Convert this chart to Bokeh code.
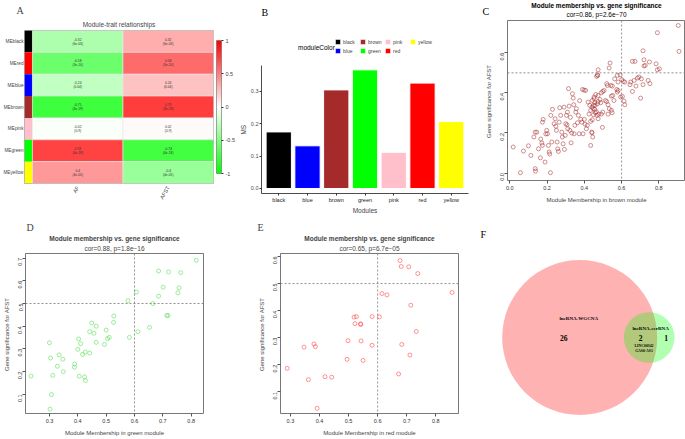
import math
from bokeh.plotting import figure
from bokeh.layouts import row, column
from bokeh.models import (FactorRange, Range1d, LinearColorMapper, ColorBar, FixedTicker,
                          Title, Span, Legend, LegendItem, ColumnDataSource,
                          NumeralTickFormatter)
from bokeh.embed import file_html
from bokeh.resources import INLINE
from bokeh.core.properties import value

# ------------------------------------------------------------------ data
# A: module-trait relationships
me_rows = ["MEblack", "MEred", "MEblue", "MEbrown", "MEpink", "MEgreen", "MEyellow"]
me_colors = ["#000000", "#FF0000", "#0000FF", "#A52A2A", "#FFC0CB", "#00FF00", "#FFFF00"]
traits = ["AF", "AFST"]
cor_af = [-0.32, -0.58, -0.24, -0.75, -0.02, 0.74, 0.4]
cor_afst = [0.32, 0.58, 0.24, 0.75, 0.02, -0.74, -0.4]
p_af = ["(6e-03)", "(3e-10)", "(0.04)", "(3e-19)", "(0.9)", "(4e-18)", "(4e-05)"]
p_afst = ["(6e-03)", "(3e-10)", "(0.04)", "(3e-19)", "(0.9)", "(4e-18)", "(4e-05)"]
cbar_ticks = [-1, -0.5, 0, 0.5, 1]

# B: module significance
modules = ["black", "blue", "brown", "green", "pink", "red", "yellow"]
module_fill = ["#000000", "#0000FF", "#A52A2A", "#00FF00", "#FFC0CB", "#FF0000", "#FFFF00"]
ms_values = [0.175, 0.132, 0.305, 0.367, 0.112, 0.326, 0.207]
ms_ticks = [0.0, 0.1, 0.2, 0.3]

# C: brown module (module membership, gene significance)
brown_points = [
    (0.018, 0.130), (0.057, 0.002), (0.073, 0.110), (0.100, 0.136), (0.113, 0.088),
    (0.129, 0.180), (0.136, 0.204), (0.145, 0.204), (0.154, 0.121), (0.164, 0.076),
    (0.136, 0.022), (0.138, 0.010), (0.166, 0.170), (0.172, 0.150), (0.175, 0.138),
    (0.179, 0.268), (0.175, 0.254), (0.189, 0.055), (0.193, 0.195), (0.198, 0.213),
    (0.202, 0.196), (0.207, 0.138), (0.211, 0.105), (0.214, 0.095), (0.218, 0.002),
    (0.220, 0.288), (0.225, 0.155), (0.229, 0.318), (0.238, 0.246), (0.243, 0.271),
    (0.247, 0.234), (0.250, 0.213), (0.254, 0.155), (0.257, 0.121), (0.261, 0.108),
    (0.265, 0.254), (0.268, 0.326), (0.273, 0.288), (0.279, 0.204), (0.282, 0.180),
    (0.286, 0.146), (0.291, 0.329), (0.293, 0.118), (0.297, 0.188), (0.300, 0.246),
    (0.304, 0.288), (0.307, 0.241), (0.309, 0.304), (0.311, 0.221), (0.315, 0.421),
    (0.318, 0.334), (0.322, 0.213), (0.325, 0.278), (0.329, 0.151), (0.332, 0.200),
    (0.336, 0.396), (0.340, 0.374), (0.343, 0.341), (0.345, 0.196), (0.349, 0.238),
    (0.354, 0.304), (0.357, 0.321), (0.363, 0.251), (0.368, 0.288), (0.372, 0.196),
    (0.375, 0.361), (0.381, 0.268), (0.386, 0.254), (0.390, 0.417), (0.393, 0.196),
    (0.399, 0.414), (0.400, 0.268), (0.404, 0.244), (0.407, 0.412), (0.411, 0.221),
    (0.416, 0.238), (0.420, 0.354), (0.425, 0.294), (0.429, 0.338), (0.434, 0.313),
    (0.440, 0.204), (0.443, 0.266), (0.447, 0.321), (0.452, 0.371), (0.458, 0.338),
    (0.461, 0.392), (0.465, 0.306), (0.468, 0.288), (0.472, 0.487),
    (0.904, 0.736), (0.792, 0.700), (0.908, 0.607), (0.715, 0.610), (0.658, 0.557),
    (0.672, 0.557), (0.720, 0.565), (0.749, 0.554), (0.727, 0.537), (0.720, 0.534),
    (0.785, 0.545), (0.792, 0.515), (0.803, 0.520), (0.538, 0.549), (0.533, 0.524),
    (0.474, 0.515), (0.470, 0.490), (0.466, 0.482), (0.592, 0.490), (0.577, 0.487),
    (0.563, 0.470), (0.601, 0.466), (0.609, 0.457), (0.617, 0.454), (0.581, 0.454),
    (0.649, 0.454), (0.645, 0.441), (0.667, 0.462), (0.685, 0.474), (0.693, 0.479),
    (0.706, 0.470), (0.715, 0.441), (0.742, 0.462), (0.752, 0.446), (0.677, 0.434),
    (0.658, 0.407), (0.702, 0.374), (0.520, 0.446), (0.524, 0.437), (0.542, 0.437),
    (0.550, 0.434), (0.574, 0.417), (0.577, 0.404), (0.581, 0.412), (0.552, 0.387),
    (0.545, 0.384), (0.595, 0.379), (0.604, 0.382), (0.559, 0.362), (0.520, 0.357),
    (0.474, 0.357), (0.484, 0.367), (0.499, 0.407), (0.491, 0.401), (0.474, 0.387),
    (0.452, 0.379), (0.443, 0.362), (0.449, 0.337), (0.506, 0.412), (0.513, 0.362),
    (0.527, 0.341), (0.534, 0.321), (0.545, 0.313), (0.549, 0.301), (0.527, 0.294),
    (0.499, 0.304), (0.491, 0.294), (0.477, 0.294), (0.456, 0.318), (0.459, 0.301),
    (0.441, 0.329), (0.613, 0.359), (0.617, 0.341), (0.474, 0.271), (0.434, 0.258),
    (0.497, 0.228), (0.441, 0.201), (0.445, 0.180), (0.434, 0.138), (0.470, 0.346),
    (0.456, 0.351), (0.488, 0.351), (0.449, 0.291),
]
brown_xticks = [0.0, 0.2, 0.4, 0.6, 0.8]
brown_yticks = [0.0, 0.2, 0.4, 0.6]

# D: green module
green_points = [
    (0.818, 0.690), (0.685, 0.643), (0.720, 0.639), (0.763, 0.636), (0.701, 0.572),
    (0.757, 0.569), (0.753, 0.547), (0.607, 0.550), (0.685, 0.532), (0.577, 0.512),
    (0.665, 0.500), (0.718, 0.447), (0.714, 0.447), (0.527, 0.445), (0.526, 0.417),
    (0.449, 0.414), (0.465, 0.400), (0.442, 0.376), (0.457, 0.369), (0.500, 0.383),
    (0.612, 0.376), (0.653, 0.395), (0.582, 0.351), (0.511, 0.351), (0.505, 0.345),
    (0.403, 0.344), (0.410, 0.323), (0.465, 0.329), (0.494, 0.320), (0.300, 0.327),
    (0.400, 0.298), (0.426, 0.286), (0.417, 0.276), (0.442, 0.282), (0.304, 0.260),
    (0.334, 0.274), (0.347, 0.255), (0.328, 0.224), (0.389, 0.234), (0.388, 0.220),
    (0.349, 0.200), (0.235, 0.181), (0.312, 0.184), (0.405, 0.180), (0.424, 0.177),
    (0.427, 0.161), (0.307, 0.099), (0.302, 0.035),
]
green_xticks = [0.3, 0.4, 0.5, 0.6, 0.7, 0.8]
green_yticks = [0.1, 0.2, 0.3, 0.4, 0.5, 0.6, 0.7]

# E: red module
red_points = [
    (0.677, 0.585), (0.681, 0.563), (0.707, 0.562), (0.738, 0.537), (0.856, 0.467),
    (0.615, 0.463), (0.632, 0.458), (0.714, 0.420), (0.519, 0.376), (0.527, 0.378),
    (0.581, 0.378), (0.606, 0.377), (0.522, 0.352), (0.541, 0.351), (0.542, 0.349),
    (0.733, 0.323), (0.498, 0.289), (0.543, 0.288), (0.581, 0.272), (0.683, 0.275),
    (0.381, 0.277), (0.386, 0.267), (0.347, 0.265), (0.711, 0.236), (0.495, 0.220),
    (0.550, 0.216), (0.289, 0.187), (0.672, 0.166), (0.419, 0.156), (0.442, 0.154),
    (0.362, 0.145), (0.392, 0.039),
]
red_xticks = [0.3, 0.4, 0.5, 0.6, 0.7, 0.8]
red_yticks = [0.1, 0.2, 0.3, 0.4, 0.5, 0.6]

# F: Venn
venn_names = ["lncRNA-WGCNA", "lncRNA-cerRNA"]
only_wgcna, both, only_cerna = 26, 2, 1
shared_genes = ["LINC00342", "GAS6-AS1"]

TITLE_MAIN = "Module membership vs. gene significance"
FONT = "Liberation Sans"
SERIF = "Liberation Serif"


def clean(p):
    p.xgrid.grid_line_color = None
    p.ygrid.grid_line_color = None
    p.border_fill_color = "white"
    p.background_fill_color = "white"
    try:
        p.frame_align = False
    except Exception:
        pass


def make_title(text, size, font=FONT, style="normal", align="center", offset=0, standoff=0):
    t = Title(text=text, align=align, offset=offset, text_font_size=size, text_font=font,
              text_font_style=style)
    try:
        t.standoff = standoff
    except Exception:
        t.standoff = 0
    return t


# ------------------------------------------------------------------ A
WA, HA, LA, RA, TA, BA = 237, 218, 23, 24, 30, 35


def mix(c1, c2, t):
    return "#%02x%02x%02x" % tuple(int(round(a + (b - a) * t)) for a, b in zip(c1, c2))


palette = ([mix((0, 255, 0), (255, 255, 255), i / 50) for i in range(50)] + ["#ffffff"] +
           [mix((255, 255, 255), (255, 0, 0), i / 50) for i in range(1, 51)])
mapper = LinearColorMapper(palette=palette, low=-1, high=1)

pA = figure(width=WA, height=HA, x_range=Range1d(-0.088, 2.0),
            y_range=FactorRange(factors=me_rows[::-1]),
            output_backend="svg", toolbar_location=None,
            min_border_left=LA, min_border_right=RA, min_border_top=TA, min_border_bottom=BA)
clean(pA)
pA.outline_line_color = "#999999"
pA.outline_line_width = 0.8

pA.rect(x=-0.044, y=me_rows, width=0.088, height=1, fill_color=me_colors, line_color=None)
for j, (cors, ps) in enumerate([(cor_af, p_af), (cor_afst, p_afst)]):
    src = ColumnDataSource(dict(y=me_rows, cor=cors,
                                lab=[f"{c:g}\n{pv}" for c, pv in zip(cors, ps)]))
    pA.rect(x=j + 0.5, y="y", width=1, height=1, source=src,
            fill_color={"field": "cor", "transform": mapper},
            line_color="#e8e8e8", line_width=0.6)
    pA.text(x=j + 0.5, y="y", text="lab", source=src, text_font_size="3.3px",
            text_align="center", text_baseline="middle", text_color="#333333",
            text_font=value(FONT), text_line_height=1.1)

for ax in (pA.xaxis[0], pA.yaxis[0]):
    ax.axis_line_color = None
    ax.major_tick_line_color = None
    ax.minor_tick_line_color = None
    ax.major_tick_out = 0
    ax.major_tick_in = 0
    ax.minor_tick_out = 0
    ax.major_label_text_font = FONT
pA.yaxis.major_label_text_font_size = "4.7px"
pA.yaxis.major_label_standoff = 1
pA.xaxis.ticker = FixedTicker(ticks=[0.5, 1.5])
pA.xaxis.major_label_overrides = {0.5: traits[0], 1.5: traits[1]}
pA.xaxis.major_label_orientation = math.pi / 3
pA.xaxis.major_label_text_font_size = "5.5px"
pA.xaxis.major_label_standoff = 3

cbar = ColorBar(color_mapper=mapper, width=5, height=133, location=(3, 10),
                padding=0, margin=0, ticker=FixedTicker(ticks=cbar_ticks),
                formatter=NumeralTickFormatter(format="0.[0]"),
                major_label_text_font_size="5.5px", major_label_text_font=FONT,
                label_standoff=2, bar_line_color="#666666", bar_line_width=0.6,
                major_tick_line_color="#333333", major_tick_in=0, major_tick_out=2,
                background_fill_alpha=0)
pA.add_layout(cbar, "right")
pA.add_layout(make_title("Module-trait relationships", "6.5px", standoff=6), "above")
pA.add_layout(make_title("A", "10px", font=SERIF, align="left", offset=-8, standoff=0), "above")

# ------------------------------------------------------------------ B
WB, HB, LB, RB, TB, BB = 233, 218, 21, 2, 2, 25
# pixel layout of B (frame from y=2 to y=193; the axis part ends at 0.38)
b_ymin, b_axis_top = -0.0155, 0.38
b_px_per_unit_y = 32.33 / 0.1
b_ymax = b_ymin + (HB - TB - BB) / b_px_per_unit_y
b_xmin, b_xmax = 0.4, len(modules) + 0.6
b_px_per_unit_x = (WB - LB - RB) / (b_xmax - b_xmin)


def bx(px):  # pixel (relative to frame left) -> data
    return b_xmin + px / b_px_per_unit_x


def by(py):  # pixel (relative to frame bottom, upward) -> data
    return b_ymin + py / b_px_per_unit_y


positions = list(range(1, len(modules) + 1))
pB = figure(width=WB, height=HB, x_range=Range1d(b_xmin, b_xmax), y_range=Range1d(b_ymin, b_ymax),
            output_backend="svg", toolbar_location=None,
            min_border_left=LB, min_border_right=RB, min_border_top=TB, min_border_bottom=BB)
clean(pB)
pB.outline_line_color = None
srcB = ColumnDataSource(dict(x=positions, v=ms_values, c=module_fill))
rB = pB.vbar(x="x", top="v", width=0.88, fill_color="c", line_color="white", line_width=1,
             source=srcB)
for ax in (pB.xaxis[0], pB.yaxis[0]):
    ax.axis_line_color = "black"
    ax.axis_line_width = 0.7
    ax.major_tick_line_color = "#333333"
    ax.major_tick_out = 2
    ax.major_tick_in = 0
    ax.minor_tick_line_color = None
    ax.minor_tick_out = 0
    ax.major_label_text_font_size = "5.5px"
    ax.major_label_text_font = FONT
    ax.major_label_text_color = "#4D4D4D"
    ax.major_label_standoff = 1
    ax.axis_label_text_font_size = "6.5px"
    ax.axis_label_text_font = FONT
    ax.axis_label_text_font_style = "normal"
    ax.axis_label_standoff = 1
pB.xaxis.major_label_text_color = "#222222"
pB.xaxis.ticker = FixedTicker(ticks=positions)
pB.xaxis.major_label_overrides = {pos: m for pos, m in zip(positions, modules)}
pB.yaxis.ticker = FixedTicker(ticks=ms_ticks)
pB.yaxis.formatter = NumeralTickFormatter(format="0.0")
pB.yaxis.bounds = (b_ymin, b_axis_top)
pB.xaxis.axis_label = "Modules"
# y-axis title centred on the axis part (not on the whole frame)
ms_up = ((b_axis_top - b_ymin) / 2) * b_px_per_unit_y - 5
pB.add_layout(make_title("MS", "6.5px", align="left", offset=ms_up, standoff=1), "left")
order = [0, 2, 4, 6, 1, 3, 5]   # row-major layout of a 2-row, column-wise legend
items = [LegendItem(label=modules[i], renderers=[rB], index=i) for i in order]
legB = Legend(items=items, orientation="horizontal", ncols=4, location=(73, 139),
              glyph_width=7, glyph_height=7, label_text_font_size="5px", label_height=7,
              label_width=14, label_standoff=2, spacing=2, padding=0, margin=0,
              border_line_color=None, background_fill_alpha=0, label_text_font=FONT)
pB.add_layout(legB, "center")
pB.text(x=[bx(37)], y=[by(146)], text=["moduleColor"], text_font=value(FONT),
        text_font_size="6.5px", text_align="left", text_baseline="middle")
pB.text(x=[bx(0)], y=[by(181)], text=["B"], text_font=value(SERIF),
        text_font_size="10px", text_align="left", text_baseline="middle")


# ------------------------------------------------------------------ R style scatter
def r_scatter(W, H, L, R, T, B, xr, yr, pts, color, xticks, yticks, xlab):
    p = figure(width=W, height=H, x_range=Range1d(*xr), y_range=Range1d(*yr),
               output_backend="svg", toolbar_location=None,
               min_border_left=L, min_border_right=R, min_border_top=T, min_border_bottom=B)
    clean(p)
    p.outline_line_color = "#555555"
    p.outline_line_width = 0.8
    xs = [a for a, b in pts]
    ys = [b for a, b in pts]
    p.scatter(xs, ys, marker="circle", size=4, fill_color=None, line_color=color,
              line_width=0.65, line_alpha=0.8)
    p.add_layout(Span(location=0.6, dimension="height", line_color="#777777",
                      line_dash="2 2", line_width=0.8))
    p.add_layout(Span(location=0.5, dimension="width", line_color="#777777",
                      line_dash="2 2", line_width=0.8))
    for ax in (p.xaxis[0], p.yaxis[0]):
        ax.axis_line_color = None
        ax.major_tick_line_color = "#555555"
        ax.major_tick_out = 3
        ax.major_tick_in = 0
        ax.minor_tick_line_color = None
        ax.major_label_text_font_size = "5.5px"
        ax.major_label_text_font = FONT
        ax.major_label_text_color = "#333333"
        ax.major_label_standoff = 2
        ax.axis_label_text_font_size = "6px"
        ax.axis_label_text_font = FONT
        ax.axis_label_text_font_style = "normal"
        ax.axis_label_standoff = 4
        ax.formatter = NumeralTickFormatter(format="0.0")
    p.xaxis.ticker = FixedTicker(ticks=xticks)
    p.yaxis.ticker = FixedTicker(ticks=yticks)
    p.yaxis.major_label_orientation = math.pi / 2
    p.xaxis.axis_label = xlab
    p.yaxis.axis_label = "Gene significance for  AFST"
    return p


def add_titles(p, cor_text, letter, letter_offset, cor_standoff):
    p.add_layout(make_title(cor_text, "6.5px", standoff=cor_standoff), "above")
    p.add_layout(make_title(TITLE_MAIN, "6.5px", style="bold", standoff=0), "above")
    p.add_layout(make_title(letter, "10px", font=SERIF, align="left", offset=letter_offset,
                            standoff=0), "above")


# C: header strip (letter + two-line title) above the scatter panel
WC, HC_HEAD, HC = 215, 20, 198
LC = 37
FWC = WC - LC
hC = figure(width=WC, height=HC_HEAD, x_range=Range1d(0, WC), y_range=Range1d(HC_HEAD, 0),
            output_backend="svg", toolbar_location=None, x_axis_location=None,
            y_axis_location=None, min_border=0)
clean(hC)
hC.outline_line_color = None
hC.text(x=[LC + FWC / 2], y=[4.5], text=[TITLE_MAIN], text_font=value(FONT),
        text_font_style="bold", text_font_size="6.5px", text_align="center",
        text_baseline="middle")
hC.text(x=[LC + FWC / 2], y=[13.5], text=["cor=0.86, p=2.6e\u221270"], text_font=value(FONT),
        text_font_size="6.5px", text_align="center", text_baseline="middle")
hC.text(x=[12], y=[11], text=["C"], text_font=value(SERIF), text_font_size="10px",
        text_align="left", text_baseline="middle")

pC = r_scatter(WC, HC, LC, 0, 0, 38, (-0.0125, 0.943), (-0.037, 0.761), brown_points,
               "#A52A2A", brown_xticks, brown_yticks, "Module Membership in brown module")

pD = r_scatter(228, 221, 25, 25, 35, 26, (0.2155, 0.8434), (0.016, 0.72), green_points,
               "#44DD44", green_xticks, green_yticks, "Module Membership in green module")
add_titles(pD, "cor=0.88, p=1.8e\u221216", "D", 1, 3)

pE = r_scatter(237, 221, 52, 7, 35, 26, (0.266, 0.878), (0.02, 0.611), red_points,
               "#FF3333", red_xticks, red_yticks, "Module Membership in red module")
add_titles(pE, "cor=0.65, p=6.7e\u221205", "E", -23, 3)

# ------------------------------------------------------------------ F (Venn)
WF, HF = 220, 221
pF = figure(width=WF, height=HF, x_range=Range1d(0, WF), y_range=Range1d(HF, 0),
            output_backend="svg", toolbar_location=None, x_axis_location=None,
            y_axis_location=None, min_border=0)
clean(pF)
pF.outline_line_color = None

n1 = only_wgcna + both
n2 = only_cerna + both
scale = 14.65
r1 = scale * math.sqrt(n1)
r2 = scale * math.sqrt(n2)
unit_area = math.pi * r1 ** 2 / n1


def lens(d):
    a1 = r1 ** 2 * math.acos(max(-1, min(1, (d * d + r1 * r1 - r2 * r2) / (2 * d * r1))))
    a2 = r2 ** 2 * math.acos(max(-1, min(1, (d * d + r2 * r2 - r1 * r1) / (2 * d * r2))))
    k = (-d + r1 + r2) * (d + r1 - r2) * (d - r1 + r2) * (d + r1 + r2)
    return a1 + a2 - 0.5 * math.sqrt(max(k, 0))


lo, hi = r1 - r2 + 1e-6, r1 + r2
for _ in range(80):
    mid = (lo + hi) / 2
    if lens(mid) > both * unit_area:
        lo = mid
    else:
        hi = mid
dist = (lo + hi) / 2
cx1, cy = 114.2, 119
cx2 = cx1 + dist
pF.circle(x=[cx1], y=[cy], radius=r1, fill_color="#FF0000", fill_alpha=0.3, line_color=None)
pF.circle(x=[cx2], y=[cy], radius=r2, fill_color="#00FF00", fill_alpha=0.3, line_color=None)
mid_x = (cx2 - r2 + cx1 + r1) / 2
pF.text(x=[cx1 - 1, cx2 + 1.5], y=[cy - 19.3, cy - 9.3], text=venn_names,
        text_font=value(SERIF), text_font_style="bold", text_font_size="5px",
        text_align="center", text_baseline="middle")
pF.text(x=[cx1 - 16, mid_x, cx2 + r2 - 8.5], y=[cy, cy, cy],
        text=[str(only_wgcna), str(both), str(only_cerna)], text_font=value(SERIF),
        text_font_style="bold", text_font_size="7.5px", text_align="center",
        text_baseline="middle")
pF.text(x=[mid_x + 3.5, mid_x + 3.5], y=[cy + 8.7, cy + 13.3], text=shared_genes,
        text_font=value(SERIF), text_font_style="bold", text_font_size="3.8px",
        text_align="center", text_baseline="middle")
pF.text(x=[15], y=[16], text=["F"], text_font=value(SERIF), text_font_size="10px",
        text_align="left", text_baseline="middle")

layout = column(row(pA, pB, column(hC, pC)), row(pD, pE, pF))
open("out.html", "w").write(file_html(layout, INLINE))
